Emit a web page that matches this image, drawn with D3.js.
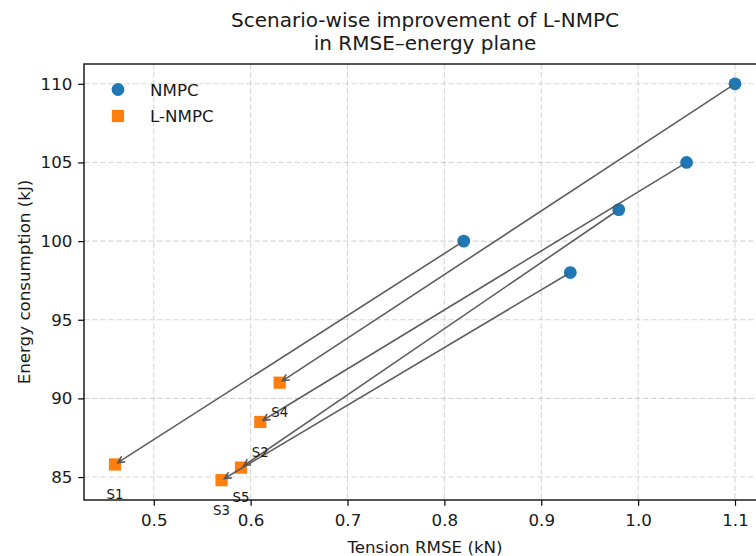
<!DOCTYPE html>
<html>
<head>
<meta charset="utf-8">
<script src="https://cdn.jsdelivr.net/npm/d3@7"></script>
<style>
  html, body { margin: 0; padding: 0; background: #fff; overflow: hidden; }
  svg { display: block; font-family: "DejaVu Sans", sans-serif; }
</style>
</head>
<body>
<svg id="chart" width="756" height="556"></svg>
<script>
// ---- data ----
const scenarios = ["S1", "S2", "S3", "S4", "S5"];
const nmpcRmse   = [0.82, 1.05, 0.93, 1.10, 0.98];
const nmpcEnergy = [100, 105, 98, 110, 102];
const lnmpcRmse   = [0.46, 0.61, 0.57, 0.63, 0.59];
const lnmpcEnergy = [85.8, 88.5, 84.8, 91.0, 85.6];
const xTicks = [0.5, 0.6, 0.7, 0.8, 0.9, 1.0, 1.1];
const yTicks = [85, 90, 95, 100, 105, 110];
const seriesNames = ["NMPC", "L-NMPC"];
const titleLines = ["Scenario-wise improvement of L-NMPC", "in RMSE\u2013energy plane"];
const xLabel = "Tension RMSE (kN)";
const yLabel = "Energy consumption (kJ)";

// ---- layout ----
const W = 756, H = 556;
const plot = { left: 84, right: 766, top: 64, bottom: 500 };
const C_NMPC = "#1f77b4", C_L = "#ff7f0e";
const fontBase = 16.7;
const textColor = "#1a1a1a";

const svg = d3.select("#chart");

function padded(vals) {
  const mn = d3.min(vals), mx = d3.max(vals), m = (mx - mn) * 0.05;
  return [mn - m, mx + m];
}
const x = d3.scaleLinear().domain(padded(nmpcRmse.concat(lnmpcRmse))).range([plot.left, plot.right]);
const y = d3.scaleLinear().domain(padded(nmpcEnergy.concat(lnmpcEnergy))).range([plot.bottom, plot.top]);

const data = scenarios.map((s, i) => ({
  name: s, nx: nmpcRmse[i], ny: nmpcEnergy[i], lx: lnmpcRmse[i], ly: lnmpcEnergy[i]
}));

// ---- grid ----
const grid = svg.append("g");
grid.selectAll("line.gx").data(xTicks).join("line")
  .attr("x1", d => x(d)).attr("x2", d => x(d))
  .attr("y1", plot.top).attr("y2", plot.bottom)
  .attr("stroke", "#b0b0b0").attr("stroke-opacity", 0.5)
  .attr("stroke-width", 1.1).attr("stroke-dasharray", "5.5,2.6");
grid.selectAll("line.gy").data(yTicks).join("line")
  .attr("x1", plot.left).attr("x2", plot.right)
  .attr("y1", d => y(d)).attr("y2", d => y(d))
  .attr("stroke", "#b0b0b0").attr("stroke-opacity", 0.5)
  .attr("stroke-width", 1.1).attr("stroke-dasharray", "5.5,2.6");

// ---- markers ----
const side = 12.2, rad = 6.4;
svg.append("g").selectAll("circle").data(data).join("circle")
  .attr("cx", d => x(d.nx)).attr("cy", d => y(d.ny)).attr("r", rad)
  .attr("fill", C_NMPC);
svg.append("g").selectAll("rect").data(data).join("rect")
  .attr("x", d => x(d.lx) - side / 2).attr("y", d => y(d.ly) - side / 2)
  .attr("width", side).attr("height", side)
  .attr("fill", C_L);

// ---- arrows ----
const shrink = 3.3, headL = 6.7, headW = 3.3;
const arrows = svg.append("g").attr("fill", "none").attr("stroke", "#555")
  .attr("stroke-width", 1.6).attr("stroke-opacity", 0.95)
  .attr("stroke-linecap", "butt").attr("stroke-linejoin", "miter");
data.forEach(d => {
  const x0 = x(d.nx), y0 = y(d.ny), x1 = x(d.lx), y1 = y(d.ly);
  const dx = x1 - x0, dy = y1 - y0, len = Math.hypot(dx, dy);
  const ux = dx / len, uy = dy / len, px = -uy, py = ux;
  const sx = x0 + ux * shrink, sy = y0 + uy * shrink;
  const tx = x1 - ux * shrink, ty = y1 - uy * shrink;
  const p = d3.path();
  p.moveTo(sx, sy); p.lineTo(tx, ty);
  p.moveTo(tx - ux * headL + px * headW, ty - uy * headL + py * headW);
  p.lineTo(tx, ty);
  p.lineTo(tx - ux * headL - px * headW, ty - uy * headL - py * headW);
  arrows.append("path").attr("d", p.toString());
});

// ---- scenario labels ----
svg.append("g").selectAll("text").data(data).join("text")
  .attr("x", d => x(d.lx)).attr("y", d => y(d.ly) + 30)
  .attr("text-anchor", "middle").attr("dy", "0.36em")
  .attr("font-size", 13.3).attr("fill", textColor)
  .text(d => d.name);

// ---- axes ----
const xAxis = svg.append("g").attr("transform", `translate(0,${plot.bottom})`)
  .call(d3.axisBottom(x).tickValues(xTicks).tickFormat(d3.format(".1f"))
        .tickSizeInner(5.8).tickSizeOuter(0).tickPadding(5.8));
const yAxis = svg.append("g").attr("transform", `translate(${plot.left},0)`)
  .call(d3.axisLeft(y).tickValues(yTicks).tickFormat(d3.format("d"))
        .tickSizeInner(5.8).tickSizeOuter(0).tickPadding(5.8));
[xAxis, yAxis].forEach(a => {
  a.select(".domain").remove();
  a.selectAll(".tick line").attr("stroke", "#000").attr("stroke-width", 1.2);
  a.selectAll(".tick text").attr("font-size", fontBase).attr("fill", textColor)
    .attr("font-family", "DejaVu Sans, sans-serif");
});
xAxis.selectAll(".tick text").attr("dy", "0.88em");

// spines
svg.append("rect")
  .attr("x", plot.left).attr("y", plot.top)
  .attr("width", plot.right - plot.left).attr("height", plot.bottom - plot.top)
  .attr("fill", "none").attr("stroke", "#000").attr("stroke-width", 1.33);

// ---- axis labels ----
svg.append("text").attr("x", (plot.left + plot.right) / 2).attr("y", 553)
  .attr("text-anchor", "middle").attr("font-size", fontBase).attr("fill", textColor)
  .text(xLabel);
svg.append("text")
  .attr("transform", `translate(29.8,${(plot.top + plot.bottom) / 2}) rotate(-90)`)
  .attr("text-anchor", "middle").attr("font-size", fontBase).attr("fill", textColor)
  .text(yLabel);

// ---- title ----
const title = svg.append("text").attr("text-anchor", "middle")
  .attr("font-size", 20).attr("fill", textColor);
titleLines.forEach((t, i) => {
  title.append("tspan").attr("x", (plot.left + plot.right) / 2)
    .attr("y", 26.5 + i * 23.5).text(t);
});

// ---- legend ----
const leg = svg.append("g");
const legRows = [{ name: seriesNames[0], color: C_NMPC, shape: "circle" },
                 { name: seriesNames[1], color: C_L, shape: "square" }];
legRows.forEach((r, i) => {
  const cy = 89.5 + i * 26.5, cx = 118;
  if (r.shape === "circle") {
    leg.append("circle").attr("cx", cx).attr("cy", cy).attr("r", rad).attr("fill", r.color);
  } else {
    leg.append("rect").attr("x", cx - side / 2).attr("y", cy - side / 2)
      .attr("width", side).attr("height", side).attr("fill", r.color);
  }
  leg.append("text").attr("x", 150).attr("y", cy).attr("dy", "0.36em")
    .attr("font-size", fontBase).attr("fill", textColor).text(r.name);
});
</script>
</body>
</html>
